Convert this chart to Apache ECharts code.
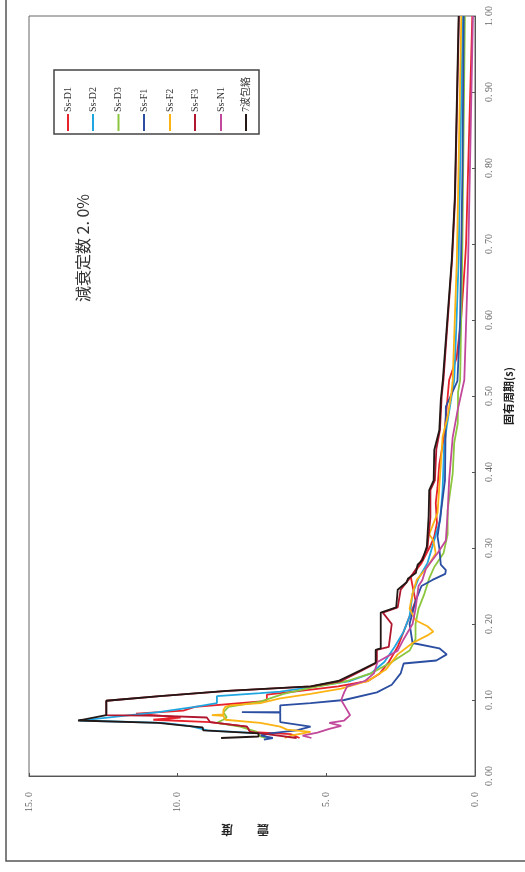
<!DOCTYPE html>
<html><head><meta charset="utf-8">
<script src="https://cdn.jsdelivr.net/npm/echarts@6/dist/echarts.min.js"></script>
<style>html,body{margin:0;padding:0;background:#fff}#c{width:525px;height:872px}</style>
</head><body><div id="c"></div>
<script>
// [period (s), seismic coefficient]
const ssD1 = [[0.050,5.9],[0.055,6.2],[0.058,7.56],[0.065,7.67],[0.071,8.91],[0.074,10.82],[0.077,9.9],[0.082,11.4],[0.086,9.81],[0.091,9.42],[0.098,7.2],[0.100,7.0],[0.107,7.0],[0.112,5.87],[0.118,4.6],[0.125,3.6],[0.135,3.2],[0.150,2.9],[0.170,2.6],[0.190,2.4],[0.210,2.2],[0.230,2.0],[0.250,2.1],[0.262,2.16],[0.280,1.8],[0.302,1.51],[0.315,1.37],[0.333,1.28],[0.359,1.32],[0.380,1.26],[0.410,1.20],[0.446,1.04],[0.521,0.87],[0.550,0.62],[0.600,0.47],[0.680,0.33],[0.700,0.30],[1.000,0.09]];
const ssD2 = [[0.050,7.0],[0.056,7.2],[0.060,9.0],[0.066,9.6],[0.070,10.5],[0.073,13.3],[0.084,10.65],[0.091,9.42],[0.096,8.68],[0.105,8.68],[0.109,7.22],[0.111,6.55],[0.117,5.53],[0.125,4.2],[0.135,3.5],[0.145,3.2],[0.150,3.05],[0.170,2.7],[0.190,2.4],[0.210,2.2],[0.240,2.1],[0.260,1.9],[0.280,1.6],[0.313,1.35],[0.337,1.17],[0.376,1.09],[0.433,1.04],[0.460,0.95],[0.521,0.70],[0.600,0.62],[0.680,0.55],[0.875,0.47],[1.000,0.41]];
const ssD3 = [[0.050,7.05],[0.052,7.22],[0.058,7.33],[0.065,7.9],[0.070,8.68],[0.074,8.47],[0.077,8.35],[0.084,8.46],[0.091,8.29],[0.098,7.22],[0.108,6.44],[0.116,5.53],[0.125,4.3],[0.135,3.5],[0.150,2.8],[0.165,2.2],[0.180,2.0],[0.200,2.0],[0.220,1.9],[0.240,1.7],[0.260,1.54],[0.275,1.37],[0.293,1.06],[0.318,0.92],[0.350,0.92],[0.398,0.75],[0.438,0.70],[0.464,0.58],[0.505,0.57],[0.521,0.50],[0.680,0.43],[1.000,0.34]];
const ssF1 = [[0.048,7.1],[0.050,6.8],[0.053,7.2],[0.056,6.9],[0.060,6.0],[0.065,5.53],[0.071,6.55],[0.0835,6.55],[0.084,7.84],[0.0845,6.55],[0.093,6.55],[0.096,5.53],[0.100,4.4],[0.110,3.3],[0.120,2.8],[0.135,2.5],[0.148,2.4],[0.152,1.3],[0.160,0.95],[0.168,1.2],[0.175,2.1],[0.200,2.2],[0.230,2.0],[0.250,1.8],[0.258,1.43],[0.266,1.0],[0.271,0.98],[0.278,1.15],[0.300,1.2],[0.315,1.26],[0.346,1.15],[0.389,1.01],[0.486,0.98],[0.520,0.59],[0.600,0.50],[0.800,0.42],[1.000,0.38]];
const ssF2 = [[0.050,6.4],[0.053,6.2],[0.058,5.53],[0.061,6.32],[0.065,6.55],[0.070,7.22],[0.074,8.4],[0.079,8.46],[0.080,8.85],[0.081,8.46],[0.087,8.46],[0.091,8.4],[0.093,8.23],[0.096,7.22],[0.102,6.55],[0.108,5.53],[0.115,4.5],[0.125,3.6],[0.140,3.0],[0.160,2.6],[0.175,2.1],[0.185,1.6],[0.190,1.4],[0.197,1.6],[0.205,2.0],[0.220,2.2],[0.240,2.1],[0.258,1.96],[0.275,1.6],[0.293,1.32],[0.310,1.4],[0.318,1.54],[0.346,1.26],[0.410,1.15],[0.446,1.09],[0.473,0.92],[0.505,0.79],[0.521,0.75],[0.680,0.61],[1.000,0.46]];
const ssF3 = [[0.050,6.0],[0.055,7.0],[0.058,7.56],[0.065,7.67],[0.071,8.91],[0.077,9.02],[0.079,10.5],[0.080,12.4],[0.099,12.4],[0.105,10.6],[0.112,8.3],[0.118,5.5],[0.125,4.5],[0.139,3.8],[0.149,3.3],[0.166,3.3],[0.170,2.9],[0.200,2.8],[0.215,3.1],[0.222,2.6],[0.245,2.5],[0.260,2.2],[0.280,1.85],[0.300,1.6],[0.340,1.5],[0.376,1.5],[0.389,1.35],[0.430,1.3],[0.455,1.18],[0.500,1.12],[0.522,1.06],[0.680,0.77],[0.760,0.67],[1.000,0.54]];
const ssN1 = [[0.050,5.5],[0.053,5.8],[0.057,5.3],[0.062,4.9],[0.066,4.5],[0.070,4.9],[0.073,4.4],[0.080,4.2],[0.090,4.35],[0.100,4.5],[0.110,4.4],[0.118,4.3],[0.125,3.7],[0.135,3.4],[0.150,3.28],[0.165,2.6],[0.180,2.4],[0.200,2.1],[0.220,2.0],[0.250,1.9],[0.258,1.77],[0.273,1.65],[0.293,1.26],[0.310,0.98],[0.346,0.92],[0.389,0.87],[0.446,0.75],[0.482,0.58],[0.521,0.36],[0.680,0.23],[1.000,0.07]];
const envelope7 = [[0.050,8.54],[0.052,7.28],[0.056,7.28],[0.060,9.14],[0.064,9.16],[0.066,9.70],[0.068,9.72],[0.070,10.65],[0.073,13.35],[0.080,12.40],[0.099,12.40],[0.105,10.6],[0.112,8.35],[0.118,5.53],[0.125,4.6],[0.139,3.85],[0.149,3.34],[0.166,3.34],[0.168,3.17],[0.215,3.17],[0.222,2.65],[0.245,2.6],[0.255,2.3],[0.260,2.25],[0.267,1.99],[0.278,1.93],[0.284,1.77],[0.302,1.62],[0.341,1.56],[0.376,1.54],[0.389,1.39],[0.429,1.37],[0.455,1.20],[0.495,1.15],[0.522,1.08],[0.680,0.78],[0.760,0.68],[1.000,0.55]];

const seriesNames = ['Ss-D1','Ss-D2','Ss-D3','Ss-F1','Ss-F2','Ss-F3','Ss-N1','7波包絡'];
const seriesData = [ssD1, ssD2, ssD3, ssF1, ssF2, ssF3, ssN1, envelope7];
const colors = ['#e8222b','#1fa6e0','#8cc63f','#2b4ea2','#fbb414','#b0172e','#c2489b','#231815'];
const periodTicks = {min:0, max:1, interval:0.1};
const valueTicks = {min:0, max:15, interval:5};
const titleText = '減衰定数 2. 0%';

const chart = echarts.init(document.getElementById('c'), null, {renderer:'canvas'});
const fmt = (v, d) => v.toFixed(d).replace('.', '. ');
const series = seriesData.map((d, i) => ({
  name: seriesNames[i], type: 'line', symbol: 'none', silent: true,
  data: d.map(p => [p[1], p[0]]),
  lineStyle: {color: colors[i], width: 1.8},
  itemStyle: {color: colors[i]},
  z: i === 7 ? 10 : 2 + i
}));
const graphic = [
  {type:'rect', shape:{x:6, y:-10, width:540, height:871}, style:{fill:'none', stroke:'#555', lineWidth:1.5}, silent:true},
  {type:'text', x:83, y:248, rotation:Math.PI/2, style:{text:titleText, fontSize:16, fontFamily:'"Noto Sans CJK JP"', fill:'#333', align:'center', verticalAlign:'middle'}},
  {type:'rect', shape:{x:54, y:70, width:205, height:64}, style:{fill:'#fff', stroke:'#444', lineWidth:1.5}, z:20},
  {type:'text', x:245, y:830, rotation:Math.PI, style:{text:'震　　度', fontSize:12, fontWeight:'bold', fontFamily:'"Noto Sans CJK JP"', fill:'#222', align:'center', verticalAlign:'middle'}}
];
const legX = [68, 93, 118.5, 144, 170, 195, 221, 246];
seriesNames.forEach((n, i) => {
  graphic.push({type:'line', shape:{x1:legX[i], y1:114, x2:legX[i], y2:131}, style:{stroke:colors[i], lineWidth:2}, z:21});
  graphic.push({type:'text', x:legX[i], y:112, rotation:Math.PI/2, z:21,
    style:{text:n, fontSize:10, fontFamily:'"Liberation Serif","Noto Sans CJK JP"', fill:'#333', align:'left', verticalAlign:'middle'}});
});

chart.setOption({
  animation: false,
  backgroundColor: '#fff',
  grid: {left:29, right:50, top:16, bottom:96, show:true, borderColor:'#666', borderWidth:1},
  xAxis: {type:'value', min:valueTicks.min, max:valueTicks.max, interval:valueTicks.interval, inverse:true, position:'bottom',
    axisLine:{show:true, lineStyle:{color:'#555', width:1}},
    axisTick:{show:true, inside:true, length:3, lineStyle:{color:'#555'}},
    splitLine:{show:false},
    axisLabel:{rotate:90, margin:16, fontSize:10, color:'#666', fontFamily:'"Liberation Serif"', formatter: v => fmt(v,1)}},
  yAxis: {type:'value', min:periodTicks.min, max:periodTicks.max, interval:periodTicks.interval, position:'right',
    name:'固有周期(s)', nameLocation:'middle', nameGap:28, nameRotate:90,
    nameTextStyle:{fontSize:11, fontWeight:'bold', color:'#222', fontFamily:'"Noto Sans CJK JP"'},
    axisLine:{show:true, lineStyle:{color:'#555', width:1}},
    axisTick:{show:true, inside:true, length:3, lineStyle:{color:'#555'}},
    splitLine:{show:false},
    axisLabel:{rotate:90, margin:9, fontSize:10, color:'#666', fontFamily:'"Liberation Serif"', formatter: v => fmt(v,2)}},
  series: series,
  graphic: graphic
});
</script></body></html>
